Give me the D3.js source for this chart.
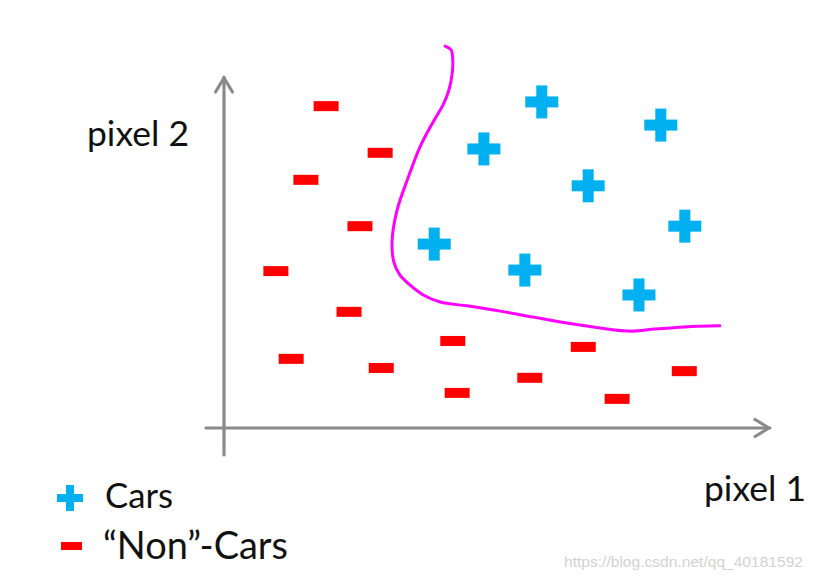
<!DOCTYPE html>
<html>
<head>
<meta charset="utf-8">
<script src="https://cdn.jsdelivr.net/npm/d3@7"></script>
<style>
  html, body { margin: 0; padding: 0; background: #fff; }
  svg { display: block; }
</style>
</head>
<body>
<svg id="chart" width="816" height="581"></svg>
<script>
// ---- data (pixel 1, pixel 2 in arbitrary 0-100 units) ----
const carsX = [58.2, 80.0, 47.6, 66.7, 84.4, 38.5, 55.1, 76.0];
const carsY = [92.9, 86.3, 79.5, 69.0, 57.5, 52.4, 45.0, 37.9];

const nonCarsX = [18.7, 28.6, 15.0, 24.9, 9.5, 22.9, 12.3, 28.8, 41.9, 42.7, 56.0, 65.8, 72.0, 84.3];
const nonCarsY = [91.7, 78.4, 70.7, 57.5, 44.7, 33.1, 19.7, 17.1, 24.8, 10.0, 14.3, 23.1, 8.3, 16.2];

const boundaryX = [40.5, 41.6, 41.9, 41.8, 41.2, 40.1, 38.3, 35.9, 33.7, 31.7, 30.8, 31.1, 32.2, 34.1, 36.5, 39.6, 44.5, 50.6, 56.6, 62.8, 68.9, 74.4, 78.9, 84.4, 90.8];
const boundaryY = [108.8, 107.7, 104.8, 101.1, 96.3, 92.0, 87.2, 80.1, 71.2, 62.1, 53.6, 47.3, 43.6, 40.7, 37.9, 35.9, 34.8, 33.3, 31.6, 29.9, 28.5, 27.6, 28.2, 28.8, 29.1];

const xLabel = "pixel 1";
const yLabel = "pixel 2";
const legendLabels = ["Cars", "\u201CNon\u201D-Cars"];
const watermark = "https://blog.csdn.net/qq_40181592";

// ---- drawing ----
const svg = d3.select("#chart");
const blue = "#00b0f0", red = "#ff0000", magenta = "#ff00ff", axisGray = "#8a8a8a";

const x = d3.scaleLinear().domain([0, 100]).range([224, 770]);
const y = d3.scaleLinear().domain([0, 100]).range([428, 77]);

// axes
const ax = svg.append("g").attr("stroke", axisGray).attr("stroke-width", 3.2)
  .attr("fill", "none").attr("stroke-linecap", "round").attr("stroke-linejoin", "round");
ax.append("line").attr("x1", x(0)).attr("y1", 455).attr("x2", x(0)).attr("y2", y(100));
ax.append("polyline").attr("points", `${x(0)-8.5},${y(100)+15} ${x(0)},${y(100)+1} ${x(0)+8.5},${y(100)+15}`);
ax.append("line").attr("x1", 206).attr("y1", y(0)).attr("x2", x(100)).attr("y2", y(0));
ax.append("polyline").attr("points", `${x(100)-15},${y(0)-8.5} ${x(100)-1},${y(0)} ${x(100)-15},${y(0)+8.5}`);

// boundary curve
const bpts = boundaryX.map((d, i) => [d, boundaryY[i]]);
svg.append("path")
  .attr("d", d3.line().x(d => x(d[0])).y(d => y(d[1])).curve(d3.curveCatmullRom.alpha(0.5))(bpts))
  .attr("fill", "none").attr("stroke", magenta).attr("stroke-width", 3)
  .attr("stroke-linecap", "round").attr("stroke-linejoin", "round");

// markers
function plus(g, cx, cy, s, t) {
  g.append("rect").attr("x", cx - s/2).attr("y", cy - t/2).attr("width", s).attr("height", t).attr("fill", blue);
  g.append("rect").attr("x", cx - t/2).attr("y", cy - s/2).attr("width", t).attr("height", s).attr("fill", blue);
}
function minus(g, cx, cy, w, h) {
  g.append("rect").attr("x", cx - w/2).attr("y", cy - h/2).attr("width", w).attr("height", h).attr("fill", red);
}
const mk = svg.append("g");
carsX.forEach((d, i) => plus(mk, x(d), y(carsY[i]), 33, 11));
nonCarsX.forEach((d, i) => minus(mk, x(d), y(nonCarsY[i]), 25, 10));

// text helper: fit to width
const font = "Lato, 'Open Sans', sans-serif";
function fitText(str, tx, ty, targetW, fill) {
  const t = svg.append("text").attr("x", tx).attr("y", ty).attr("font-family", font)
    .attr("font-size", 34).attr("fill", fill || "#111").text(str);
  const w = t.node().getComputedTextLength();
  if (w > 0) t.attr("font-size", 34 * targetW / w);
  return t;
}
fitText(yLabel, 87, 146, 102);
fitText(xLabel, 704, 501, 102);

// legend
plus(svg, 70, 498, 26, 8);
fitText(legendLabels[0], 105, 508, 68);
minus(svg, 71.5, 546, 21, 8);
fitText(legendLabels[1], 103, 559, 185);

// watermark
svg.append("text").attr("x", 564).attr("y", 567)
  .attr("font-family", "'Liberation Sans', Arial, sans-serif").attr("font-size", 15)
  .attr("fill", "#d2d2d2").attr("textLength", 239).attr("lengthAdjust", "spacingAndGlyphs")
  .text(watermark);
</script>
</body>
</html>
